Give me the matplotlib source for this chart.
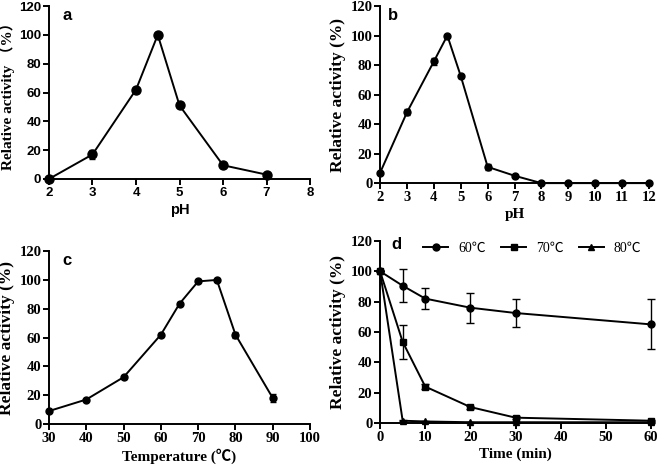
import matplotlib
matplotlib.use("Agg")
import matplotlib.pyplot as plt
from matplotlib.lines import Line2D

# ---- data ----
ph_a = [2, 3, 4, 4.5, 5, 6, 7]
act_a = [0, 17, 62, 100, 51, 9.5, 3]
err_a = [0, 3, 1, 0.5, 1, 0.5, 0.5]

ph_b = [2, 3, 4, 4.5, 5, 6, 7, 8, 9, 10, 11, 12]
act_b = [7, 48, 82.5, 100, 72.5, 11, 5, 0, 0, 0, 0, 0]
err_b = [0.5, 2, 2.5, 0.5, 1, 2, 0.5, 0, 0, 0, 0, 0]

temp_c = [30, 40, 50, 60, 65, 70, 75, 80, 90]
act_c = [9, 17, 32.5, 62, 83.5, 99, 100, 62, 18]
err_c = [0.5, 0.5, 1, 1, 1, 0.5, 0.5, 2, 2.5]

time_d = [0, 5, 10, 20, 30, 60]
act_60 = [100, 90.5, 82, 76, 72.5, 65]
err_60 = [0, 11, 7, 10, 9, 16.5]
act_70 = [100, 53.5, 24, 10.5, 3.5, 1.5]
err_70 = [0, 11, 1.5, 1, 1, 0.5]
act_80 = [100, 1.5, 1, 0.5, 0.5, 0.5]
err_80 = [0, 0.5, 0.5, 0.3, 0.3, 0.3]
legend_labels = ["60℃", "70℃", "80℃"]

SERIF = ["Liberation Serif", "Noto Sans CJK SC", "DejaVu Serif"]
SANS = ["Liberation Sans", "DejaVu Sans"]

fig = plt.figure(figsize=(6.61, 4.66), dpi=100)

def style(ax, tickfam, size):
    for s in ["top", "right"]:
        ax.spines[s].set_visible(False)
    for s in ["left", "bottom"]:
        ax.spines[s].set_linewidth(1.4)
    ax.tick_params(direction="out", length=4, width=1.4, labelsize=size, pad=1.5)
    for lab in ax.get_xticklabels() + ax.get_yticklabels():
        lab.set_family(tickfam)
        lab.set_fontweight("bold")

def panel_label(ax, t, x, y):
    ax.text(x, y, t, transform=ax.transAxes, family=SANS, fontweight="bold",
            fontsize=12, va="top", ha="left")

def ylab(ax, text, size=12.5, x=-0.128):
    ax.set_ylabel(text, family=SERIF, fontweight="bold", fontsize=size)
    ax.yaxis.set_label_coords(x, 0.5)

lw = 1.4
ms = 5

# a
ax = fig.add_axes([0.0741, 0.616, 0.395, 0.371])
ax.errorbar(ph_a, act_a, yerr=err_a, color="black", lw=lw, marker="o", ms=ms + 1.5,
            capsize=2.5, elinewidth=1, clip_on=False, zorder=3)
ax.set_xlim(2, 8); ax.set_ylim(0, 120)
ax.set_xticks(range(2, 9)); ax.set_yticks(range(0, 121, 20))
style(ax, SANS, 9.5)
ax.set_xlabel("pH", family=SANS, fontweight="bold", fontsize=10.5, labelpad=3)
ylab(ax, "Relative activity （%）", size=11, x=-0.13)
panel_label(ax, "a", 0.05, 0.99)

# b
ax = fig.add_axes([0.575, 0.607, 0.407, 0.380])
ax.errorbar(ph_b, act_b, yerr=err_b, color="black", lw=lw, marker="o", ms=ms,
            capsize=2.5, elinewidth=1, clip_on=False, zorder=3)
ax.set_xlim(2, 12); ax.set_ylim(0, 120)
ax.set_xticks(range(2, 13)); ax.set_yticks(range(0, 121, 20))
style(ax, SERIF, 10.5)
ax.set_xlabel("pH", family=SERIF, fontweight="bold", fontsize=11, labelpad=3)
ylab(ax, "Relative activity (%)", x=-0.125)
panel_label(ax, "b", 0.03, 0.99)

# c
ax = fig.add_axes([0.0741, 0.0901, 0.395, 0.371])
ax.errorbar(temp_c, act_c, yerr=err_c, color="black", lw=lw, marker="o", ms=ms,
            capsize=2.5, elinewidth=1, clip_on=False, zorder=3)
ax.set_xlim(30, 100); ax.set_ylim(0, 120)
ax.set_xticks(range(30, 101, 10)); ax.set_yticks(range(0, 121, 20))
style(ax, SERIF, 10.5)
ax.set_xlabel("Temperature (℃)", family=SERIF, fontweight="bold", fontsize=11, labelpad=3)
ylab(ax, "Relative activity (%)", x=-0.13)
panel_label(ax, "c", 0.05, 0.99)

# d
ax = fig.add_axes([0.575, 0.0923, 0.410, 0.3906])
ax.errorbar(time_d, act_60, yerr=err_60, color="black", lw=lw, marker="o", ms=ms,
            capsize=3, elinewidth=1, clip_on=False, zorder=3)
ax.errorbar(time_d, act_70, yerr=err_70, color="black", lw=lw, marker="s", ms=ms,
            capsize=3, elinewidth=1, clip_on=False, zorder=3)
ax.errorbar(time_d, act_80, yerr=err_80, color="black", lw=lw, marker="^", ms=ms,
            capsize=3, elinewidth=1, clip_on=False, zorder=3)
ax.set_xlim(0, 60); ax.set_ylim(0, 120)
ax.set_xticks(range(0, 61, 10)); ax.set_yticks(range(0, 121, 20))
style(ax, SERIF, 10.5)
ax.set_xlabel("Time (min)", family=SERIF, fontweight="bold", fontsize=11, labelpad=3)
ylab(ax, "Relative activity (%)", x=-0.125)
panel_label(ax, "d", 0.04, 1.02)
handles = [Line2D([], [], color="black", lw=lw, marker=m, ms=ms) for m in ["o", "s", "^"]]
ax.legend(handles, legend_labels, loc="center left", bbox_to_anchor=(0.16, 0.96),
          ncol=3, frameon=False, handlelength=1.8, columnspacing=1.1, handletextpad=0.7,
          borderpad=0, borderaxespad=0, prop={"family": SERIF, "size": 10})

fig.savefig("out.png", dpi=100)
